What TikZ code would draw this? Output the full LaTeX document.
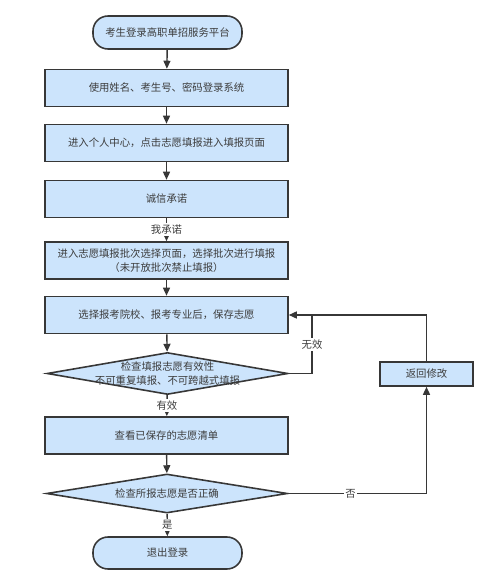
\documentclass[tikz,border=0pt]{standalone}
\usepackage{fontspec}
\setmainfont{Noto Sans CJK SC}
\usetikzlibrary{shapes.geometric, arrows.meta, calc}

\definecolor{boxblue}{RGB}{204,228,252}
\definecolor{linegray}{RGB}{55,55,55}
\definecolor{textgray}{RGB}{60,60,60}

\tikzset{
  base/.style={draw=linegray, line width=0.9pt, fill=boxblue, text=textgray,
    font=\fontsize{5.9pt}{7.6pt}\selectfont, align=center, inner sep=0pt},
  term/.style={base, rounded corners=0.3cm, minimum width=2.98cm, minimum height=0.66cm},
  stepbox/.style={base, rectangle, minimum width=4.86cm, minimum height=0.74cm},
  smallbox/.style={base, rectangle, minimum width=1.86cm, minimum height=0.48cm},
  decide/.style={base, diamond, minimum width=4.82cm, minimum height=0.84cm},
  flow/.style={draw=linegray, line width=0.8pt, -{Triangle[length=1.6mm,width=1.4mm]}},
  plain/.style={draw=linegray, line width=0.8pt},
  tag/.style={fill=white, text=textgray, inner sep=1pt,
    font=\fontsize{5.9pt}{7pt}\selectfont}
}

\begin{document}
\begin{tikzpicture}[x=0.02cm, y=-0.02cm]
      \useasboundingbox (0,0) rectangle (500,581);

      \node[term] (start) at (167.5,32.5) {考生登录高职单招服务平台};

      \node[stepbox] (login)   at (166.5,88)    {使用姓名、考生号、密码登录系统};
      \node[stepbox] (center)  at (166.5,143)   {进入个人中心，点击志愿填报进入填报页面};
      \node[stepbox] (promise) at (166.5,199)   {诚信承诺};
      \node[stepbox] (batch)   at (166.5,260.5) {进入志愿填报批次选择页面，选择批次进行填报\\（未开放批次禁止填报）};
      \node[stepbox] (choose)  at (166.5,315)   {选择报考院校、报考专业后，保存志愿};

      \node[decide, label={[text=textgray, font=\fontsize{5.9pt}{7.6pt}\selectfont, align=center]center:检查填报志愿有效性\\不可重复填报、不可跨越式填报}]
        (check) at (167.5,373.5) {};

      \node[stepbox] (list) at (166.5,435.5) {查看已保存的志愿清单};

      \node[decide, minimum height=0.78cm,
        label={[text=textgray, font=\fontsize{5.9pt}{7.6pt}\selectfont]center:检查所报志愿是否正确}]
        (verify) at (167,493.5) {};

      \node[term, minimum height=0.64cm] (quit) at (167.5,553) {退出登录};

      \node[smallbox] (back) at (426.5,374) {返回修改};

      \coordinate (join) at (312,314);

      % main line
      \draw[flow] (start) -- (login);
      \draw[flow] (login) -- (center);
      \draw[flow] (center) -- (promise);
      \draw[flow] (promise) -- node[tag] {我承诺} (batch);
      \draw[flow] (batch) -- (choose);
      \draw[flow] (choose) -- (check);
      \draw[flow] (check) -- node[tag] {有效} (list);
      \draw[flow] (list) -- (verify);
      \draw[flow] (verify) -- node[tag] {是} (quit);

      % back loops
      \draw[plain] (check.east) -| node[tag, pos=0.74] {无效} (join);
      \draw[flow] (verify.east) -| node[tag, pos=0.225] {否} (back.south);
      \draw[flow] (back.north) |- (choose.east);
    \end{tikzpicture}
\end{document}
